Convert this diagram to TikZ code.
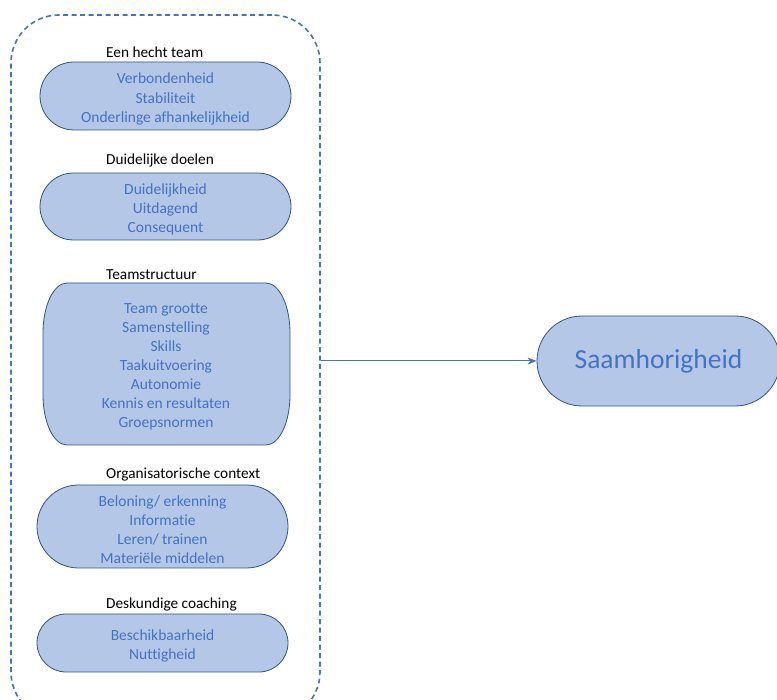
\documentclass[tikz,border=0pt]{standalone}
\usepackage{fontspec}
\setmainfont{Carlito}[Ligatures=NoCommon]
\usetikzlibrary{arrows.meta}
\definecolor{fillblue}{HTML}{B4C7E7}
\definecolor{edgeblue}{HTML}{2F528F}
\definecolor{textblue}{HTML}{4472C4}
\newcommand{\topstrut}{\rule{0pt}{17pt}}
\tikzset{
  pill/.style={draw=edgeblue, line width=0.8pt, fill=fillblue, text=textblue, align=center,
    minimum width=251pt, inner sep=0pt, font=\fontsize{15.5}{19.2}\selectfont},
  grouplabel/.style={anchor=west, text=black, inner sep=0pt, font=\fontsize{15.3}{17}\selectfont},
  dashbox/.style={draw=textblue, line width=1.6pt, dash pattern=on 5pt off 3.5pt, rounded corners=48pt},
  conn/.style={draw=textblue, line width=1pt, -{Stealth[length=9pt,width=7pt]}}
}
\begin{document}
\begin{tikzpicture}[x=1pt,y=1pt]
\useasboundingbox (0,0) rectangle (777,700);
\clip (0,0) rectangle (777,700);
% outer dashed group
\node[dashbox, minimum width=309pt, minimum height=705pt, inner sep=0pt] (grp) at (165.5,332.5) {};
% group labels
\node[grouplabel] (l1) at (106,648) {Een hecht team};
\node[grouplabel] (l2) at (106,539) {Duidelijke doelen};
\node[grouplabel] (l3) at (106,425) {Teamstructuur};
\node[grouplabel] (l4) at (106,225) {Organisatorische context};
\node[grouplabel] (l5) at (106,95) {Deskundige coaching};
% pills
\node[pill, minimum height=68pt, rounded corners=34pt] (p1) at (165.5,604) {\topstrut Verbondenheid\\Stabiliteit\\Onderlinge afhankelijkheid};
\node[pill, minimum height=67pt, rounded corners=33.5pt] (p2) at (165.5,493.5) {\topstrut Duidelijkheid\\Uitdagend\\Consequent};
% teamstructuur shape
\path[draw=edgeblue, line width=0.8pt, fill=fillblue]
  (67,417) -- (266,417) arc[start angle=90, end angle=0, x radius=24, y radius=50]
  -- (290,305) arc[start angle=0, end angle=-90, x radius=24, y radius=50]
  -- (67,255) arc[start angle=270, end angle=180, x radius=24, y radius=50]
  -- (43,367) arc[start angle=180, end angle=90, x radius=24, y radius=50] -- cycle;
\node[text=textblue, align=center, inner sep=0pt, font=\fontsize{15.5}{19}\selectfont] (p3) at (166,333) {Team grootte\\Samenstelling\\Skills\\Taakuitvoering\\Autonomie\\Kennis en resultaten\\Groepsnormen};
\node[pill, minimum height=83pt, rounded corners=41.5pt] (p4) at (162.5,173.5) {\topstrut Beloning/ erkenning\\Informatie\\Leren/ trainen\\Materiële middelen};
\node[pill, minimum height=58pt, rounded corners=29pt] (p5) at (162.5,57) {\topstrut Beschikbaarheid\\Nuttigheid};
% result
\node[pill, minimum width=243pt, minimum height=90pt, rounded corners=45pt, font=\fontsize{27.5}{32}\selectfont] (sam) at (658.5,339) {Saamhorigheid};
\draw[conn] (sam.west -| grp.east) -- (sam.west);
\end{tikzpicture}
\end{document}
